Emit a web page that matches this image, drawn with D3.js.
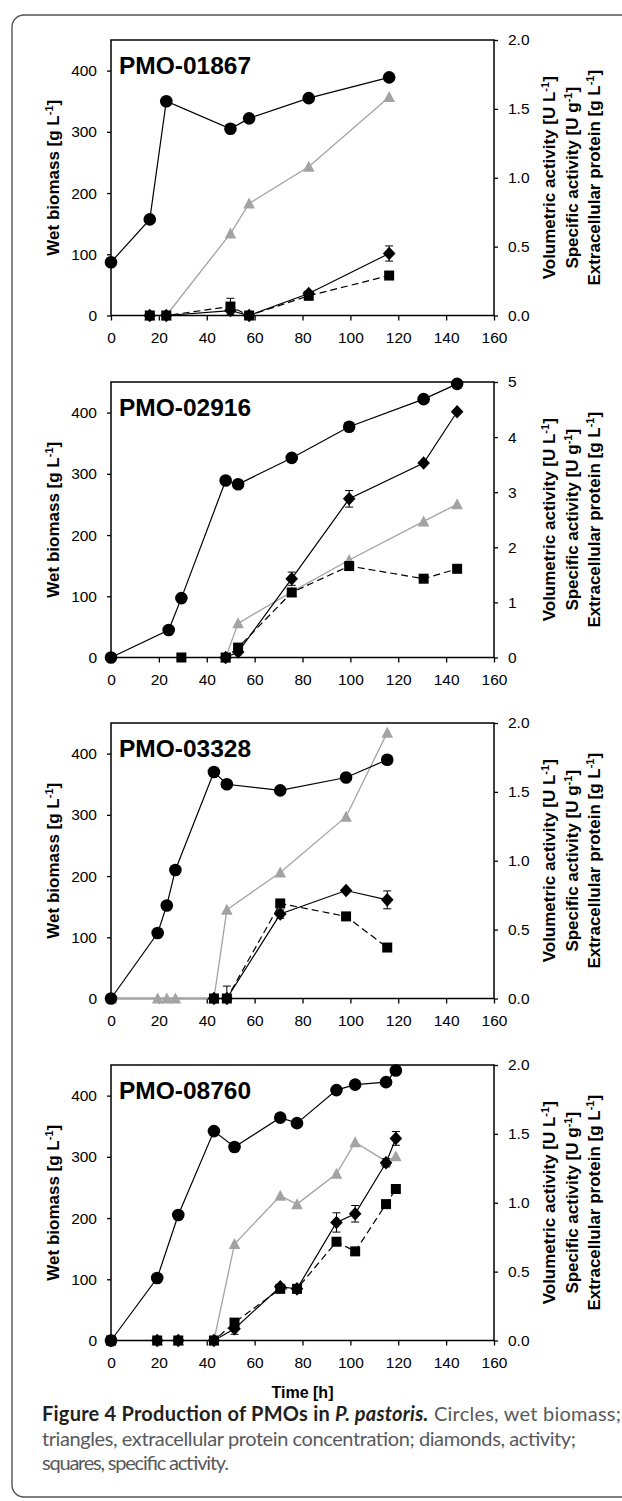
<!DOCTYPE html>
<html><head><meta charset="utf-8">
<script src="https://cdn.jsdelivr.net/npm/d3@7"></script>
<style>
html,body{margin:0;padding:0;background:#fff;}
svg{display:block;}
</style></head>
<body>
<svg id="c" width="622" height="1501" font-family="Liberation Sans, Arial, sans-serif"></svg>
<script>
// ---------------- data ----------------
const titles = ["PMO-01867", "PMO-02916", "PMO-03328", "PMO-08760"];
const rightMax = [2, 5, 2, 2];
const rightTicks = [[0,0.5,1,1.5,2],[0,1,2,3,4,5],[0,0.5,1,1.5,2],[0,0.5,1,1.5,2]];
const rightFormat = [".1f", "d", ".1f", ".1f"];
const xTicks = [0,20,40,60,80,100,120,140,160];
const leftTicks = [0,100,200,300,400];

// Panel 1 (PMO-01867)  [time h, value]
const bio1  = [[0,87],[16.2,157],[23.1,350],[49.9,305],[57.7,322],[82.6,355],[116.2,389]];
const prot1 = [[16.2,0],[23.1,0],[49.9,0.595],[57.7,0.813],[82.6,1.08],[116.2,1.586]];
const act1  = [[16.2,0],[23.1,0],[49.9,0.036],[57.7,0],[82.6,0.16],[116.2,0.45]];
const spec1 = [[16.2,0],[23.1,0],[49.9,0.065],[57.7,0],[82.6,0.143],[116.2,0.29]];
const actErr1  = [[116.2,0.45,0.055]];
const specErr1 = [[49.9,0.065,0.06]];

// Panel 2 (PMO-02916)
const bio2  = [[0,0],[24.1,45],[29.4,97],[47.9,289],[53.1,283],[75.5,326],[99.5,377],[130.6,422],[144.6,447]];
const prot2 = [[47.9,0],[53.1,0.62],[75.5,1.19],[99.5,1.77],[130.6,2.47],[144.6,2.78]];
const act2  = [[47.9,0],[53.1,0.1],[75.5,1.43],[99.5,2.88],[130.6,3.53],[144.6,4.46]];
const spec2 = [[29.4,0],[47.9,0],[53.1,0.18],[75.5,1.18],[99.5,1.66],[130.6,1.43],[144.6,1.61]];
const actErr2  = [[75.5,1.43,0.12],[99.5,2.88,0.15]];
const specErr2 = [];

// Panel 3 (PMO-03328)
const bio3  = [[0,0],[19.5,107],[23.3,152],[26.9,210],[43,370],[48.4,350],[70.7,340],[98.2,361],[115.4,390]];
const prot3 = [[0,0],[19.5,0],[23.3,0],[26.9,0],[43,0],[48.4,0.644],[70.7,0.915],[98.2,1.32],[115.4,1.93]];
const act3  = [[43,0],[48.4,0],[70.7,0.613],[98.2,0.784],[115.4,0.716]];
const spec3 = [[43,0],[48.4,0],[70.7,0.69],[98.2,0.596],[115.4,0.37]];
const actErr3  = [[70.7,0.613,0.03],[115.4,0.716,0.065]];
const specErr3 = [[48.4,0,0.09]];

// Panel 4 (PMO-08760)
const bio4  = [[0,0],[19.3,102],[28.1,205],[43,342],[51.6,316],[70.7,364],[77.7,355],[94.2,409],[102,418],[114.9,422],[119,441]];
const prot4 = [[0,0],[19.3,0],[28.1,0],[43,0],[51.6,0.70],[70.7,1.05],[77.7,0.99],[94.2,1.21],[102,1.44],[114.9,1.30],[119,1.337]];
const act4  = [[0,0],[19.3,0],[28.1,0],[43,0],[51.6,0.085],[70.7,0.39],[77.7,0.375],[94.2,0.857],[102,0.92],[114.9,1.29],[119,1.467]];
const spec4 = [[0,0],[19.3,0],[28.1,0],[43,0],[51.6,0.13],[70.7,0.375],[77.7,0.375],[94.2,0.717],[102,0.647],[114.9,0.99],[119,1.10]];
const actErr4  = [[51.6,0.085,0.04],[94.2,0.857,0.07],[102,0.92,0.06],[114.9,1.29,0.03],[119,1.467,0.05]];
const specErr4 = [];

const bioAll  = [bio1, bio2, bio3, bio4];
const protAll = [prot1, prot2, prot3, prot4];
const actAll  = [act1, act2, act3, act4];
const specAll = [spec1, spec2, spec3, spec4];
const actErrAll  = [actErr1, actErr2, actErr3, actErr4];
const specErrAll = [specErr1, specErr2, specErr3, specErr4];

// ---------------- layout ----------------
const svg = d3.select("#c");
const FONT = "Liberation Sans, Arial, sans-serif";
const X0 = 111, X1 = 494;
const tops = [40, 382, 723, 1065];
const PH = 275.5;
const GRAY = "#a3a3a3";

// outer rounded frame
svg.append("rect").attr("x", 12).attr("y", 15).attr("width", 640).attr("height", 1482)
  .attr("rx", 12).attr("fill", "none").attr("stroke", "#555").attr("stroke-width", 1.4);

const x = d3.scaleLinear().domain([0,160]).range([X0, X1]);

function diamondPath(cx, cy){ const w=6.3,h=6.8; return `M${cx},${cy-h}L${cx+w},${cy}L${cx},${cy+h}L${cx-w},${cy}Z`; }
function squarePath(cx, cy){ const s=5; return `M${cx-s},${cy-s}H${cx+s}V${cy+s}H${cx-s}Z`; }
function triPath(cx, cy){ const w=5.8,h=5.5; return `M${cx},${cy-h-0.5}L${cx+w},${cy+h-0.5}L${cx-w},${cy+h-0.5}Z`; }

for (let p = 0; p < 4; p++) {
  const top = tops[p], bot = top + PH;
  const yL = d3.scaleLinear().domain([0,450]).range([bot, top]);
  const yR = d3.scaleLinear().domain([0,rightMax[p]]).range([bot, top]);
  const g = svg.append("g");

  // axes
  const ax = g.append("g").attr("transform", `translate(0,${bot})`)
    .call(d3.axisBottom(x).tickValues(xTicks).tickSize(5).tickSizeOuter(0).tickPadding(11));
  const al = g.append("g").attr("transform", `translate(${X0},0)`)
    .call(d3.axisLeft(yL).tickValues(leftTicks).tickSize(4).tickSizeOuter(0).tickPadding(10));
  const ar = g.append("g").attr("transform", `translate(${X1},0)`)
    .call(d3.axisRight(yR).tickValues(rightTicks[p]).tickSize(4).tickSizeOuter(0).tickPadding(10)
      .tickFormat(d3.format(rightFormat[p])));
  [ax, al, ar].forEach(a => {
    a.select(".domain").remove();
    a.selectAll("line").attr("stroke", "#000").attr("stroke-width", 1.3);
    a.selectAll("text").attr("font-family", FONT).attr("font-size", 15.5).attr("fill", "#000");
  });

  // frame
  g.append("rect").attr("x", X0).attr("y", top).attr("width", X1 - X0).attr("height", PH)
    .attr("fill", "none").attr("stroke", "#000").attr("stroke-width", 1.5);

  // title
  g.append("text").attr("x", 119).attr("y", top + 34).attr("font-size", 24.5)
    .attr("font-weight", "bold").attr("fill", "#000").text(titles[p]);

  // left axis label
  const ll = g.append("text").attr("transform", `translate(59,${(top+bot)/2}) rotate(-90)`)
    .attr("text-anchor", "middle").attr("font-size", 17).attr("font-weight", "bold");
  ll.append("tspan").text("Wet biomass [g L");
  ll.append("tspan").attr("dy", -6).attr("font-size", 11).text("-1");
  ll.append("tspan").attr("dy", 6).text("]");

  // right axis labels (3 lines)
  const rl = [["Volumetric activity [U L", "-1", "]"], ["Specific activity [U g", "-1", "]"], ["Extracellular protein [g L", "-1", "]"]];
  const rx = [555, 578, 600];
  rl.forEach((parts, i) => {
    const t = g.append("text").attr("transform", `translate(${rx[i]},${(top+bot)/2}) rotate(-90)`)
      .attr("text-anchor", "middle").attr("font-size", 17).attr("font-weight", "bold");
    t.append("tspan").text(parts[0]);
    t.append("tspan").attr("dy", -6).attr("font-size", 11).text(parts[1]);
    t.append("tspan").attr("dy", 6).text(parts[2]);
  });

  const line = (ys) => d3.line().x(d => x(d[0])).y(d => ys(d[1]));

  // gray protein line + triangles
  g.append("path").attr("d", line(yR)(protAll[p])).attr("fill", "none").attr("stroke", GRAY).attr("stroke-width", 1.3);
  g.selectAll(".tri").data(protAll[p]).join("path").attr("d", d => triPath(x(d[0]), yR(d[1]))).attr("fill", GRAY);

  // error bars
  const errs = actErrAll[p].concat(specErrAll[p]);
  errs.forEach(e => {
    const cx = x(e[0]), y1 = yR(e[1] + e[2]), y2 = yR(Math.max(0, e[1] - e[2]));
    g.append("line").attr("x1", cx).attr("x2", cx).attr("y1", y1).attr("y2", y2).attr("stroke", "#000").attr("stroke-width", 1);
    [y1, y2].forEach(yy => g.append("line").attr("x1", cx - 4).attr("x2", cx + 4).attr("y1", yy).attr("y2", yy).attr("stroke", "#000").attr("stroke-width", 1));
  });

  // specific activity (squares, dashed)
  g.append("path").attr("d", line(yR)(specAll[p])).attr("fill", "none").attr("stroke", "#000")
    .attr("stroke-width", 1.2).attr("stroke-dasharray", "7,4");
  g.selectAll(".sq").data(specAll[p]).join("path").attr("d", d => squarePath(x(d[0]), yR(d[1]))).attr("fill", "#000");

  // activity (diamonds, solid)
  g.append("path").attr("d", line(yR)(actAll[p])).attr("fill", "none").attr("stroke", "#000").attr("stroke-width", 1.2);
  g.selectAll(".dm").data(actAll[p]).join("path").attr("d", d => diamondPath(x(d[0]), yR(d[1]))).attr("fill", "#000");

  // biomass (circles)
  g.append("path").attr("d", line(yL)(bioAll[p])).attr("fill", "none").attr("stroke", "#000").attr("stroke-width", 1.2);
  g.selectAll(".ci").data(bioAll[p]).join("circle").attr("cx", d => x(d[0])).attr("cy", d => yL(d[1])).attr("r", 6.3).attr("fill", "#000");
}

// x axis title
svg.append("text").attr("x", (X0 + X1) / 2).attr("y", 1398).attr("text-anchor", "middle")
  .attr("font-size", 16).attr("font-weight", "bold").text("Time [h]");

// caption
const CF = "Lato, Open Sans, Noto Sans, sans-serif";
const c1 = svg.append("text").attr("x", 42).attr("y", 1421).attr("font-family", CF).attr("font-size", 20)
  .attr("textLength", 579).attr("lengthAdjust", "spacing");
c1.append("tspan").attr("font-weight", "bold").attr("fill", "#231f20").text("Figure 4 Production of PMOs in ");
c1.append("tspan").attr("font-weight", "bold").attr("font-style", "italic").attr("fill", "#231f20").text("P. pastoris.");
c1.append("tspan").attr("fill", "#58595b").text(" Circles, wet biomass;");
svg.append("text").attr("x", 42).attr("y", 1446).attr("font-family", CF).attr("font-size", 20).attr("fill", "#58595b")
  .attr("textLength", 534).attr("lengthAdjust", "spacing")
  .text("triangles, extracellular protein concentration; diamonds, activity;");
svg.append("text").attr("x", 42).attr("y", 1470).attr("font-family", CF).attr("font-size", 20).attr("fill", "#58595b")
  .attr("textLength", 187).attr("lengthAdjust", "spacing")
  .text("squares, specific activity.");
</script>
</body></html>
